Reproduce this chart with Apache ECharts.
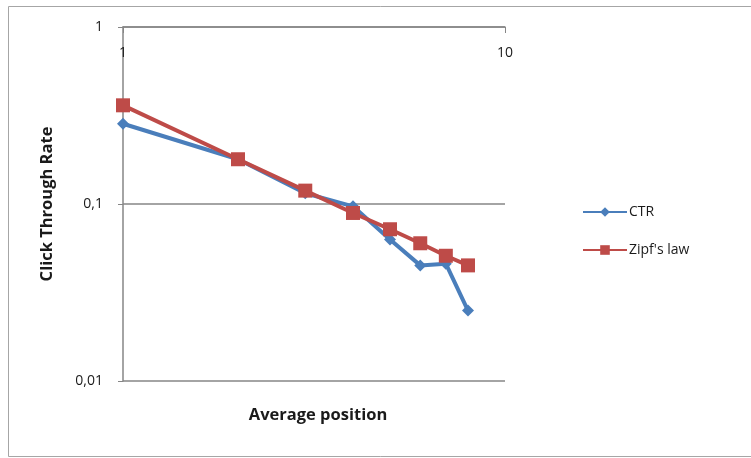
<!DOCTYPE html>
<html><head><meta charset="utf-8">
<script src="https://cdn.jsdelivr.net/npm/echarts@6/dist/echarts.min.js"></script>
<style>html,body{margin:0;padding:0;background:#fff}#c{width:751px;height:458px}</style>
</head><body><div id="c"></div>
<script>
const positions = [1, 2, 3, 4, 5, 6, 7, 8];
const ctrValues = [0.284, 0.179, 0.115, 0.097, 0.063, 0.045, 0.046, 0.025];
const zipfValues = [0.361, 0.179, 0.119, 0.089, 0.072, 0.060, 0.051, 0.045];
const seriesNames = ['CTR', "Zipf's law"];
const FONT = '"Open Sans", Lato, sans-serif';
const chart = echarts.init(document.getElementById('c'));
chart.setOption({
  animation: false,
  backgroundColor: '#fff',
  grid: { left: 123, right: 246, top: 27, bottom: 77 },
  graphic: [
    { type: 'rect', shape: { x: 8.5, y: 6.5, width: 800, height: 450 }, style: { fill: 'none', stroke: '#a6a6a6', lineWidth: 1 }, z: -1 },
    { type: 'text', x: 318, y: 415, style: { text: 'Average position', font: 'bold 16.5px ' + FONT, fill: '#1a1a1a', textAlign: 'center', textVerticalAlign: 'middle' } }
  ],
  legend: {
    orient: 'vertical', left: 577, top: 200, itemGap: 24, itemWidth: 44, itemHeight: 12,
    textStyle: { fontFamily: FONT, fontSize: 14, color: '#1a1a1a', padding: [0, 0, 0, -3] },
    data: seriesNames
  },
  xAxis: {
    type: 'log', logBase: 10, min: 1, max: 10, position: 'top',
    axisLine: { show: true, lineStyle: { color: '#868686', width: 1.5 } },
    axisTick: { show: true, inside: true, length: 6, lineStyle: { color: '#868686' } },
    axisLabel: { inside: true, margin: 19, fontFamily: FONT, fontSize: 14, color: '#1a1a1a' },
    splitLine: { show: false }
  },
  yAxis: {
    type: 'log', logBase: 10, min: 0.01, max: 1,
    name: 'Click Through Rate', nameLocation: 'middle', nameGap: 67,
    nameTextStyle: { fontFamily: FONT, fontSize: 16.5, fontWeight: 'bold', color: '#1a1a1a' },
    axisLine: { show: true, lineStyle: { color: '#868686', width: 1.5 } },
    axisTick: { show: true, inside: false, length: 5, lineStyle: { color: '#868686' } },
    axisLabel: { margin: 20, fontFamily: FONT, fontSize: 14, color: '#1a1a1a',
      formatter: v => String(+v.toPrecision(6)).replace('.', ',') },
    splitLine: { show: true, lineStyle: { color: '#868686', width: 1.5 } }
  },
  series: [
    { name: seriesNames[0], type: 'line', data: positions.map((p, i) => [p, ctrValues[i]]),
      symbol: 'diamond', symbolSize: 12, itemStyle: { color: '#4a7ebb' }, lineStyle: { width: 4, color: '#4a7ebb' }, z: 2 },
    { name: seriesNames[1], type: 'line', data: positions.map((p, i) => [p, zipfValues[i]]),
      symbol: 'rect', symbolSize: 14, itemStyle: { color: '#be4b48' }, lineStyle: { width: 4, color: '#be4b48' }, z: 3 }
  ]
});
</script></body></html>
